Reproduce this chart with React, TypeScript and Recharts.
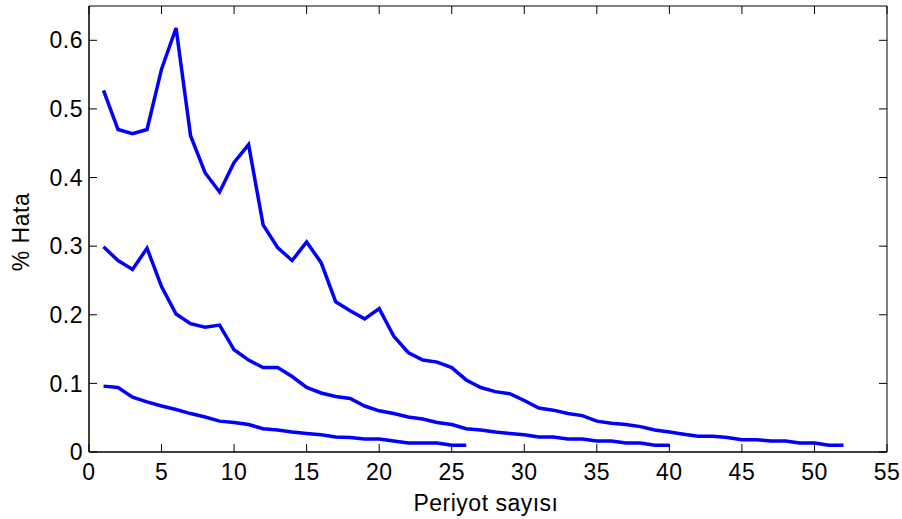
import React from 'react';
import { LineChart, Line, XAxis, YAxis, ReferenceArea } from 'recharts';

const periods: number[] = Array.from({ length: 52 }, (_, i) => i + 1);

const seriesA: number[] = [
  0.527, 0.470, 0.464, 0.470, 0.558, 0.618, 0.461, 0.407, 0.379, 0.422,
  0.448, 0.331, 0.298, 0.279, 0.306, 0.276, 0.219, 0.206, 0.194, 0.209,
  0.169, 0.145, 0.134, 0.131, 0.123, 0.105, 0.094, 0.088, 0.085, 0.075,
  0.064, 0.061, 0.056, 0.053, 0.045, 0.042, 0.040, 0.037, 0.032, 0.029,
  0.026, 0.023, 0.023, 0.021, 0.018, 0.018, 0.016, 0.016, 0.013, 0.013,
  0.010, 0.010,
];

const seriesB: number[] = [
  0.299, 0.279, 0.266, 0.297, 0.241, 0.201, 0.187, 0.182, 0.185, 0.149,
  0.134, 0.123, 0.123, 0.110, 0.094, 0.086, 0.081, 0.078, 0.067, 0.060,
  0.056, 0.051, 0.048, 0.043, 0.040, 0.034, 0.032, 0.029, 0.027, 0.025,
  0.022, 0.022, 0.019, 0.019, 0.016, 0.016, 0.013, 0.013, 0.010, 0.010,
];

const seriesC: number[] = [
  0.096, 0.094, 0.080, 0.073, 0.067, 0.062, 0.056, 0.051, 0.045, 0.043,
  0.040, 0.034, 0.032, 0.029, 0.027, 0.025, 0.022, 0.021, 0.019, 0.019,
  0.016, 0.013, 0.013, 0.013, 0.010, 0.010,
];

const xTicks: number[] = [0, 5, 10, 15, 20, 25, 30, 35, 40, 45, 50, 55];
const yTicks: number[] = [0, 0.1, 0.2, 0.3, 0.4, 0.5, 0.6];

const xLabel = 'Periyot sayısı';
const yLabel = '% Hata';

const data = periods.map((p, i) => ({
  x: p,
  a: seriesA[i],
  b: seriesB[i],
  c: seriesC[i],
}));

const W = 902;
const H = 519;
const M = { top: 6, right: 15, bottom: 7, left: 0 };
const Y_AXIS_W = 89;
const X_AXIS_H = 60;
const PLOT_TOP = M.top;
const PLOT_RIGHT = W - M.right;
const PLOT_BOTTOM = H - M.bottom - X_AXIS_H;
const TICK_LEN = 8;

const FONT = '"Liberation Sans", Arial, Helvetica, sans-serif';
const FONT_SIZE = 23;
const LS = 0.5;

const XTick = (props: any) => {
  const { x, y, payload } = props;
  return (
    <g>
      <line x1={x} x2={x} y1={y} y2={y - TICK_LEN} stroke="#000" strokeWidth={1} />
      <line x1={x} x2={x} y1={PLOT_TOP} y2={PLOT_TOP + TICK_LEN} stroke="#000" strokeWidth={1} />
      <text
        x={x}
        y={y + 12}
        dy="0.71em"
        textAnchor="middle"
        fill="#000"
        fontSize={FONT_SIZE}
        fontFamily={FONT}
        letterSpacing={LS}
      >
        {String(payload.value)}
      </text>
    </g>
  );
};

const YTick = (props: any) => {
  const { x, y, payload } = props;
  return (
    <g>
      <line x1={x} x2={x + TICK_LEN} y1={y} y2={y} stroke="#000" strokeWidth={1} />
      <line x1={PLOT_RIGHT} x2={PLOT_RIGHT - TICK_LEN} y1={y} y2={y} stroke="#000" strokeWidth={1} />
      <text
        x={x - 6}
        y={y}
        dy="0.355em"
        textAnchor="end"
        fill="#000"
        fontSize={FONT_SIZE}
        fontFamily={FONT}
        letterSpacing={LS}
      >
        {String(payload.value)}
      </text>
    </g>
  );
};

export default function App() {
  return (
    <div style={{ position: 'fixed', left: 0, top: 0, width: W, height: H, background: '#fff' }}>
      <LineChart width={W} height={H} data={data} margin={M}>
        <XAxis
          dataKey="x"
          type="number"
          domain={[0, 55]}
          ticks={xTicks}
          allowDataOverflow
          height={X_AXIS_H}
          tickSize={0}
          tickMargin={0}
          tickLine={false}
          stroke="#000"
          tick={<XTick />}
          interval={0}
          label={{
            content: (props: any) => {
              const vb = props.viewBox || {};
              return (
                <text
                  x={vb.x + vb.width / 2 - 2}
                  y={PLOT_BOTTOM + 59}
                  textAnchor="middle"
                  fill="#000"
                  fontSize={FONT_SIZE}
                  fontFamily={FONT}
                  letterSpacing={LS}
                >
                  {xLabel}
                </text>
              );
            },
          }}
        />
        <YAxis
          type="number"
          domain={[0, 0.65]}
          ticks={yTicks}
          allowDataOverflow
          width={Y_AXIS_W}
          tickSize={0}
          tickMargin={0}
          tickLine={false}
          stroke="#000"
          tick={<YTick />}
          interval={0}
          label={{
            content: (props: any) => {
              const vb = props.viewBox || {};
              const cx = 21;
              const cy = vb.y + vb.height / 2 + 3;
              return (
                <text
                  x={cx}
                  y={cy}
                  transform={`rotate(-90 ${cx} ${cy})`}
                  textAnchor="middle"
                  dominantBaseline="central"
                  fill="#000"
                  fontSize={FONT_SIZE}
                  fontFamily={FONT}
                  letterSpacing={LS}
                >
                  {yLabel}
                </text>
              );
            },
          }}
        />
        <ReferenceArea
          x1={0}
          x2={55}
          y1={0}
          y2={0.65}
          fill="none"
          fillOpacity={0}
          stroke="#000"
          strokeWidth={1}
          ifOverflow="visible"
        />
        <Line
          dataKey="a"
          type="linear"
          stroke="#0000FF"
          strokeWidth={3.5}
          dot={false}
          activeDot={false}
          isAnimationActive={false}
        />
        <Line
          dataKey="b"
          type="linear"
          stroke="#0000FF"
          strokeWidth={3.5}
          dot={false}
          activeDot={false}
          isAnimationActive={false}
        />
        <Line
          dataKey="c"
          type="linear"
          stroke="#0000FF"
          strokeWidth={3.5}
          dot={false}
          activeDot={false}
          isAnimationActive={false}
        />
      </LineChart>
    </div>
  );
}
